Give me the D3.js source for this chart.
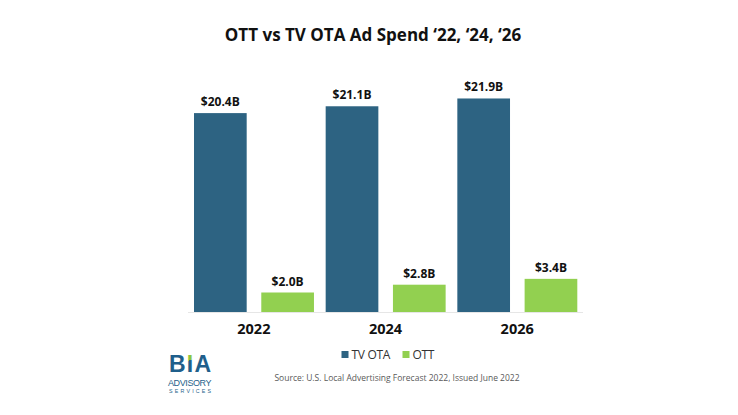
<!DOCTYPE html>
<html><head><meta charset="utf-8">
<script src="https://cdn.jsdelivr.net/npm/d3@7"></script>
<style>
html,body{margin:0;padding:0;background:#fff;}
svg{display:block;font-family:"Open Sans",sans-serif;}
</style></head>
<body>
<svg id="chart" width="738" height="415"></svg>
<script>
const years = ["2022","2024","2026"];
const seriesNames = ["TV OTA","OTT"];
const tvOta = [20.4, 21.1, 21.9];
const ott = [2.0, 2.8, 3.4];
const valueLabels = {"TV OTA":["$20.4B","$21.1B","$21.9B"], "OTT":["$2.0B","$2.8B","$3.4B"]};
const colors = {"TV OTA":"#2d6382","OTT":"#92d050"};
const titleText = "OTT vs TV OTA Ad Spend \u201822, \u201824, \u201826";
const sourceText = "Source: U.S. Local Advertising Forecast 2022, Issued June 2022";

const svg = d3.select("#chart");
const x0 = d3.scaleBand().domain(years).range([188,583]).paddingInner(0).paddingOuter(0);
const x1 = d3.scaleBand().domain(seriesNames).range([6, x0.bandwidth()-5.7]).paddingInner(0.217).paddingOuter(0);
const y = d3.scaleLinear().domain([0,24]).range([312,78]);

const data = years.map((yr,i)=>({year:yr, values:[
  {key:"TV OTA", v:tvOta[i], label:valueLabels["TV OTA"][i]},
  {key:"OTT", v:ott[i], label:valueLabels["OTT"][i]}]}));

// title
svg.append("text").attr("x",373).attr("y",41).attr("text-anchor","middle")
  .attr("font-size",17).attr("font-weight",700).attr("fill","#111").text(titleText);

// baseline
svg.append("line").attr("x1",188).attr("x2",583).attr("y1",312.5).attr("y2",312.5)
  .attr("stroke","#e6e6e6").attr("stroke-width",1);

const g = svg.selectAll("g.grp").data(data).join("g").attr("class","grp")
  .attr("transform",d=>`translate(${x0(d.year)},0)`);
g.selectAll("rect").data(d=>d.values).join("rect")
  .attr("x",d=>x1(d.key)).attr("width",x1.bandwidth())
  .attr("y",d=>y(d.v)).attr("height",d=>y(0)-y(d.v))
  .attr("fill",d=>colors[d.key]);
g.selectAll("text.val").data(d=>d.values).join("text").attr("class","val")
  .attr("x",d=>x1(d.key)+x1.bandwidth()/2).attr("y",d=>y(d.v)-7)
  .attr("text-anchor","middle").attr("font-size",12).attr("font-weight",700)
  .attr("fill","#111").text(d=>d.label);

// x axis labels
const xAxis = d3.axisBottom(x0).tickSize(0).tickPadding(0);
const ax = svg.append("g").attr("transform","translate(0,324)").call(xAxis);
ax.select(".domain").remove();
ax.selectAll("text").attr("font-size",14.5).attr("font-weight",700).attr("fill","#111")
  .attr("font-family","Open Sans, sans-serif").attr("dy","0.71em");

// legend
const legend = [{k:"TV OTA",x:341.5},{k:"OTT",x:402.5}];
const lg = svg.selectAll("g.lg").data(legend).join("g").attr("class","lg")
  .attr("transform",d=>`translate(${d.x},351)`);
lg.append("rect").attr("width",7).attr("height",7).attr("fill",d=>colors[d.k]);
lg.append("text").attr("x",10).attr("y",7.5).attr("font-size",12).attr("fill","#333")
  .attr("letter-spacing","-0.3").text(d=>d.k);

// source
svg.append("text").attr("x",397).attr("y",381).attr("text-anchor","middle")
  .attr("font-size",8.5).attr("fill","#595959").text(sourceText);

// logo
const defs = svg.append("defs");
const grad = defs.append("linearGradient").attr("id","ig").attr("gradientUnits","userSpaceOnUse")
  .attr("x1",186).attr("y1",354).attr("x2",192).attr("y2",372);
grad.append("stop").attr("offset","0.38").attr("stop-color","#8dc63f");
grad.append("stop").attr("offset","0.38").attr("stop-color","#1f5f8b");
const logoFont = "Liberation Sans, Arial, sans-serif";
const bia = svg.append("text").attr("x",169).attr("y",372).attr("font-size",23).attr("font-weight",700)
  .attr("font-family",logoFont).attr("fill","#1f5f8b").attr("letter-spacing","1.2");
bia.append("tspan").text("B");
bia.append("tspan").attr("fill","url(#ig)").text("I");
bia.append("tspan").text("A");
svg.append("text").attr("x",168).attr("y",385.5).attr("font-size",9).attr("font-family",logoFont)
  .attr("fill","#1f5f8b").attr("letter-spacing","-0.4").text("ADVISORY");
svg.append("text").attr("x",169).attr("y",392.5).attr("font-size",5.3).attr("font-family",logoFont)
  .attr("fill","#1f5f8b").attr("letter-spacing","2.2").text("SERVICES");
</script>
</body></html>
